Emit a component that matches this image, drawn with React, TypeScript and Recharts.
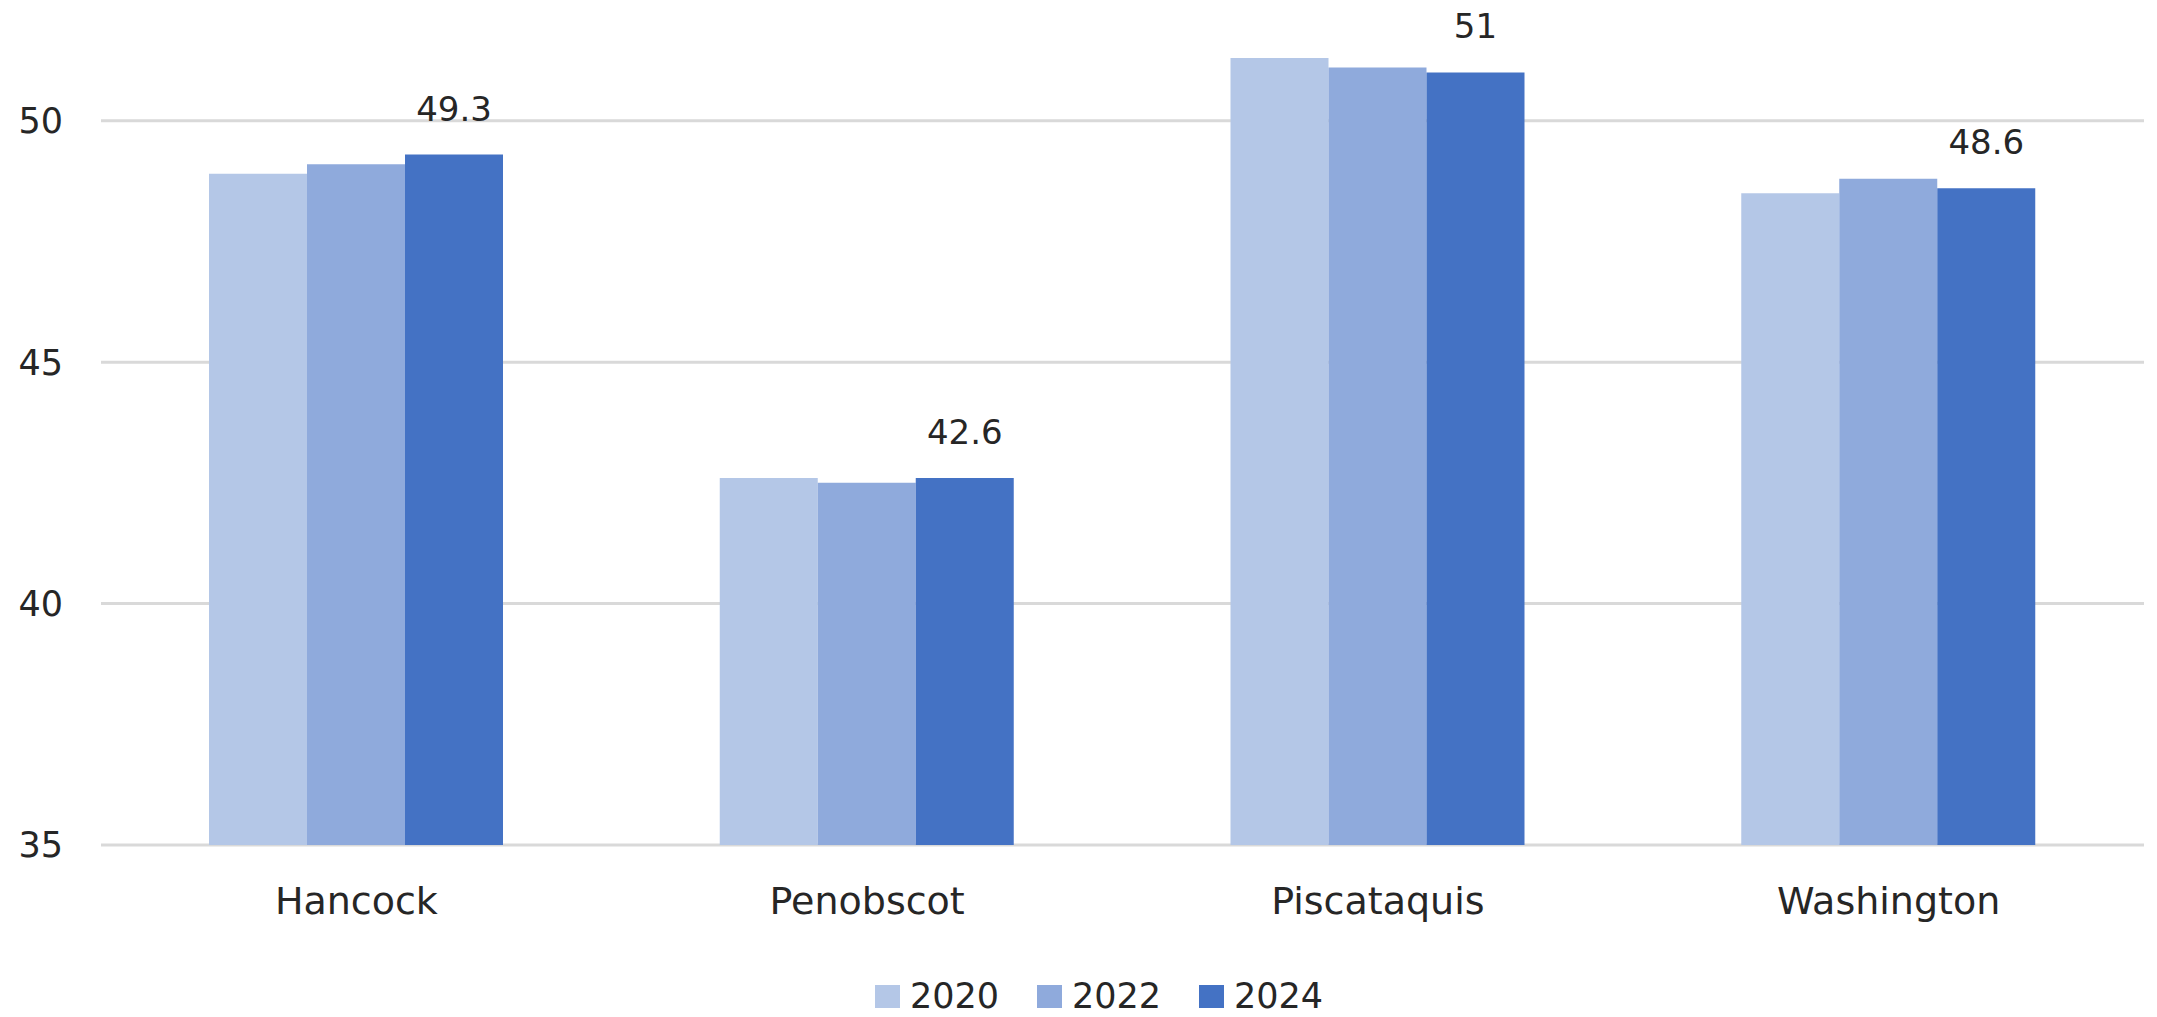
import { BarChart, Bar, XAxis, YAxis, CartesianGrid, Legend, LabelList } from 'recharts';

// Values
const COUNTIES = ['Hancock', 'Penobscot', 'Piscataquis', 'Washington'];
const Y2020 = [48.9, 42.6, 51.3, 48.5];
const Y2022 = [49.1, 42.5, 51.1, 48.8];
const Y2024 = [49.3, 42.6, 51.0, 48.6];
const Y_TICKS = [35, 40, 45, 50];

const SERIES = [
  { key: 'y2020', name: '2020', color: '#b4c7e7' },
  { key: 'y2022', name: '2022', color: '#8faadc' },
  { key: 'y2024', name: '2024', color: '#4472c4' },
];

const FONT = '"DejaVu Sans", "Liberation Sans", sans-serif';
const TEXT = '#262626';

const data = COUNTIES.map((county, i) => ({
  county,
  y2020: Y2020[i],
  y2022: Y2022[i],
  y2024: Y2024[i],
}));

function LegendBox() {
  return (
    <div
      style={{
        display: 'flex',
        justifyContent: 'center',
        alignItems: 'center',
        height: 50,
        paddingTop: 8,
        paddingLeft: 54,
        boxSizing: 'border-box',
        fontFamily: FONT,
        fontSize: 35,
        color: TEXT,
      }}
    >
      {SERIES.map((s, i) => (
        <div
          key={s.key}
          style={{ display: 'flex', alignItems: 'center', marginRight: i < SERIES.length - 1 ? 38 : 0 }}
        >
          <span style={{ width: 25, height: 23, background: s.color, display: 'inline-block', marginRight: 10 }} />
          <span>{s.name}</span>
        </div>
      ))}
    </div>
  );
}

export default function App() {
  return (
    <div style={{ width: 2157, height: 1017, background: '#fff' }}>
      <style>{'body{margin:0}'}</style>
      <BarChart
        width={2157}
        height={1017}
        data={data}
        margin={{ top: 0, right: 13, left: 0, bottom: 0 }}
        barCategoryGap={108}
        barGap={0}
      >
        <CartesianGrid vertical={false} horizontalValues={Y_TICKS} stroke="#d9d9d9" strokeWidth={3} />
        <XAxis
          dataKey="county"
          height={122}
          axisLine={false}
          tickLine={false}
          tickSize={0}
          tickMargin={42}
          tick={{ fill: TEXT, fontSize: 38, fontFamily: FONT }}
        />
        <YAxis
          width={101}
          domain={[35, 52.5]}
          ticks={Y_TICKS}
          allowDataOverflow
          axisLine={false}
          tickLine={false}
          tickSize={0}
          tickMargin={38}
          tick={{ fill: TEXT, fontSize: 35, fontFamily: FONT }}
        />
        <Legend verticalAlign="bottom" content={() => <LegendBox />} />
        {SERIES.map((s) => (
          <Bar key={s.key} dataKey={s.key} name={s.name} fill={s.color} isAnimationActive={false}>
            {s.key === 'y2024' && (
              <LabelList
                dataKey={s.key}
                position="top"
                offset={34}
                fill={TEXT}
                fontSize={34}
                fontFamily={FONT}
              />
            )}
          </Bar>
        ))}
      </BarChart>
    </div>
  );
}
